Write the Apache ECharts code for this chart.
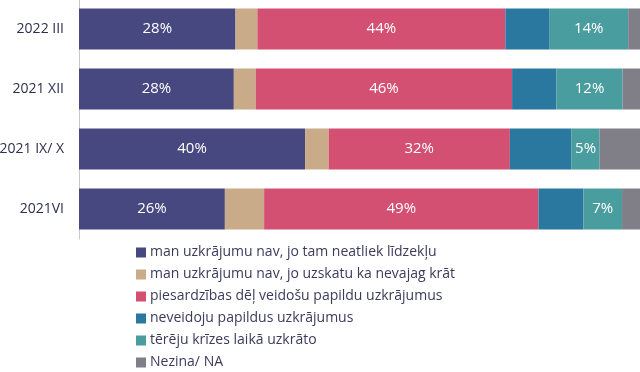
<!DOCTYPE html>
<html>
<head>
<meta charset="utf-8">
<script src="https://cdn.jsdelivr.net/npm/echarts@6/dist/echarts.min.js"></script>
<style>
  html, body { margin: 0; padding: 0; background: #fff; }
  #chart { width: 640px; height: 372px; }
</style>
</head>
<body>
<div id="chart"></div>
<script>
  // periods, top to bottom
  const periods = ['2022 III', '2021 XII', '2021 IX/ X', '2021VI']

  const names = [
    'man uzkrājumu nav, jo tam neatliek līdzekļu',
    'man uzkrājumu nav, jo uzskatu ka nevajag krāt',
    'piesardzības dēļ veidošu papildu uzkrājumus',
    'neveidoju papildus uzkrājumus',
    'tērēju krīzes laikā uzkrāto',
    'Nezina/ NA'
  ]
  const colors = ['#46487f', '#c9ab89', '#d35072', '#2a77a0', '#4a9d9e', '#807e86']

  // shares in %, same order as periods
  const noMeans = [27.9, 27.6, 40.3, 26.0]
  const noNeed = [3.9, 3.9, 4.2, 7.0]
  const caution = [44.2, 45.7, 32.3, 48.9]
  const noExtra = [7.8, 7.9, 11.0, 8.0]
  const spending = [14.1, 11.8, 5.0, 6.9]
  const dontKnow = [2.1, 3.1, 7.2, 3.2]

  const values = [noMeans, noNeed, caution, noExtra, spending, dontKnow]
  const labelled = [true, false, true, false, true, false]

  const chart = echarts.init(document.getElementById('chart'))

  const series = values.map(function (data, i) {
    return {
      name: names[i],
      type: 'bar',
      stack: 'total',
      barWidth: 41,
      data: data,
      itemStyle: { color: colors[i] },
      label: {
        show: labelled[i],
        position: 'inside',
        color: '#fff',
        fontSize: 15,
        fontFamily: 'Open Sans',
        formatter: function (p) { return Math.round(p.value) + '%' }
      }
    }
  })

  chart.setOption({
    animation: false,
    grid: { left: 79, right: 0, top: -1, height: 240, outerBoundsMode: 'none', containLabel: false },
    xAxis: {
      type: 'value',
      min: 0,
      max: 100,
      show: false
    },
    yAxis: {
      type: 'category',
      inverse: true,
      data: periods,
      axisLine: { show: true, lineStyle: { color: '#c8c8c8', width: 1 } },
      axisTick: { show: false },
      axisLabel: {
        color: '#2e2e4e',
        fontSize: 14,
        fontFamily: 'Open Sans',
        margin: 15
      }
    },
    legend: {
      orient: 'vertical',
      left: 136,
      top: 244.5,
      height: 128,
      padding: 0,
      itemWidth: 10,
      itemHeight: 10,
      itemGap: 6,
      icon: 'rect',
      textStyle: {
        color: '#3b3b5c',
        fontSize: 14,
        lineHeight: 16,
        fontFamily: 'Open Sans',
        padding: [0, 0, 0, -1]
      },
      data: names
    },
    series: series
  })
</script>
</body>
</html>
